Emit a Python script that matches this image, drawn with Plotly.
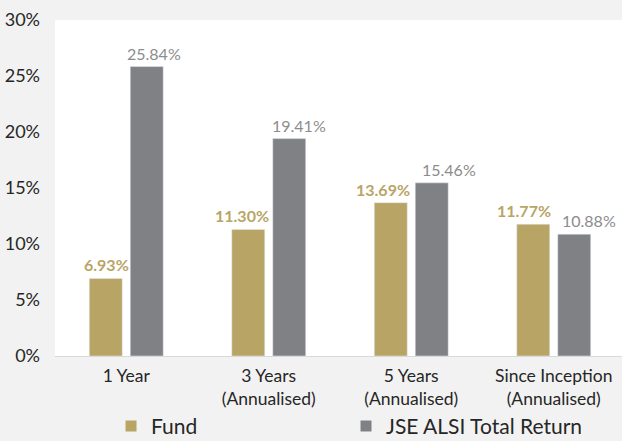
import plotly.graph_objects as go

categories = ["1 Year", "3 Years<br>(Annualised)", "5 Years<br>(Annualised)", "Since Inception<br>(Annualised)"]
fund = [6.93, 11.30, 13.69, 11.77]
benchmark = [25.84, 19.41, 15.46, 10.88]
series_names = ["Fund", "JSE ALSI Total Return"]
y_ticks = [0, 5, 10, 15, 20, 25, 30]
y_tick_labels = ["0%", "5%", "10%", "15%", "20%", "25%", "30%"]

# styling: horizontal pixel offsets of the value labels from the category centre
fund_label_shift = [-20, -27, -28, -30]
bench_label_shift = [28, 30, 38, 35]

GOLD = "#b8a566"
GRAY = "#808184"
FONT = "Lato"

fig = go.Figure()
fig.add_trace(go.Bar(
    x=categories, y=fund, name=series_names[0], marker_color=GOLD,
    showlegend=False, hoverinfo="skip",
))
fig.add_trace(go.Bar(
    x=categories, y=benchmark, name=series_names[1], marker_color=GRAY,
    showlegend=False, hoverinfo="skip",
))
# legend entries
for name, col in zip(series_names, [GOLD, GRAY]):
    fig.add_trace(go.Scatter(
        x=[None], y=[None], mode="markers", name=name,
        marker=dict(symbol="square", size=11, color=col),
    ))

# value labels
for cat, v, dx in zip(categories, fund, fund_label_shift):
    fig.add_annotation(
        x=cat, y=v, text=f"{v:.2f}%", showarrow=False, xanchor="center",
        yanchor="bottom", xshift=dx, yshift=2,
        font=dict(family=FONT, size=16, color=GOLD, weight="bold"),
    )
for cat, v, dx in zip(categories, benchmark, bench_label_shift):
    fig.add_annotation(
        x=cat, y=v, text=f"{v:.2f}%", showarrow=False, xanchor="center",
        yanchor="bottom", xshift=dx, yshift=2,
        font=dict(family=FONT, size=16, color="#8c8c8c"),
    )

fig.update_layout(
    width=622, height=441,
    margin=dict(l=55, r=0, t=20, b=85, autoexpand=False),
    paper_bgcolor="#f2f2f2", plot_bgcolor="#ffffff",
    barmode="group", bargap=0.425, bargroupgap=0.195,
    font=dict(family=FONT, color="#262626"),
    showlegend=True,
    legend=dict(
        orientation="h", xref="paper", yref="paper",
        x=0.0988, xanchor="left", y=-0.148, yanchor="top",
        font=dict(family=FONT, size=21, color="#262626"),
        entrywidth=190, entrywidthmode="pixels",
        itemwidth=30, bgcolor="rgba(0,0,0,0)",
    ),
    xaxis=dict(
        range=[-0.5, 3.479], showgrid=False, showline=True, automargin=False,
        linecolor="#d9d9d9", linewidth=1, ticks="", ticklabelstandoff=4,
        tickfont=dict(family=FONT, size=17.5, color="#262626"),
    ),
    yaxis=dict(
        range=[0, 30], tickvals=y_ticks, ticktext=y_tick_labels, automargin=False,
        showgrid=False, zeroline=False, showline=False,
        ticks="", ticklabelstandoff=14,
        tickfont=dict(family=FONT, size=18, color="#262626"),
    ),
)

fig.write_html(
    "out.html",
    config={"displayModeBar": False},
    post_script="document.body.style.margin='0';document.body.style.overflow='hidden';",
)
